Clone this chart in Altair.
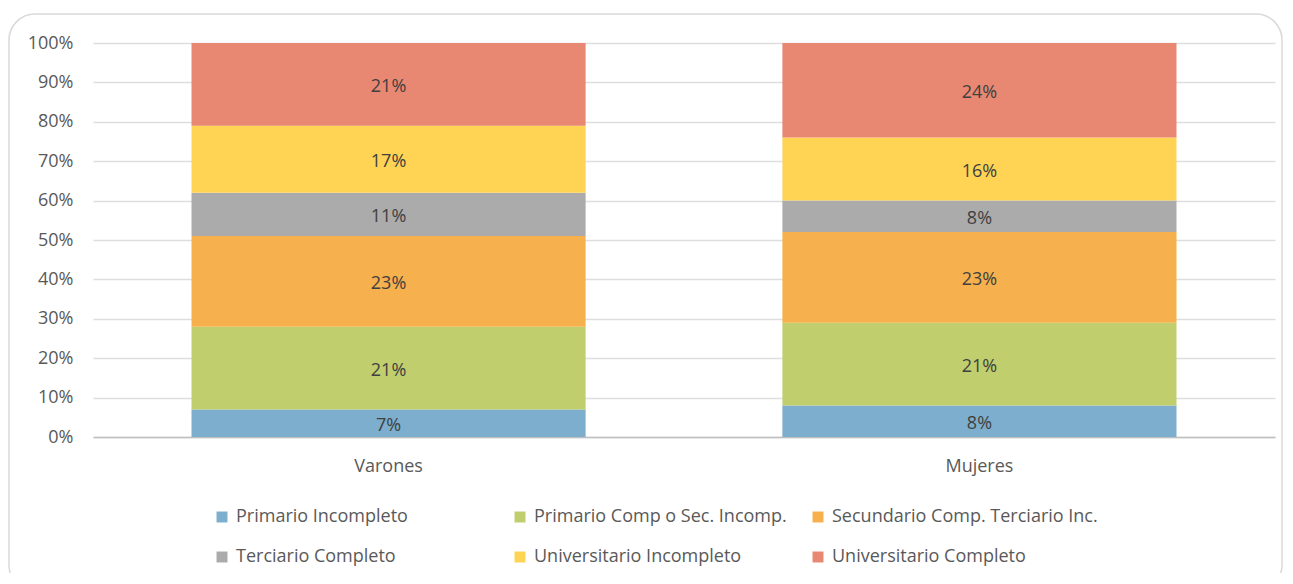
import altair as alt
import pandas as pd

groups = ["Varones", "Mujeres"]
levels = [
    "Primario Incompleto",
    "Primario Comp o Sec. Incomp.",
    "Secundario Comp. Terciario Inc.",
    "Terciario Completo",
    "Universitario Incompleto",
    "Universitario Completo",
]
colors = ["#76AACA", "#BDCB66", "#F5AC45", "#A6A6A6", "#FFD24C", "#E8826A"]
varones = [0.07, 0.21, 0.23, 0.11, 0.17, 0.21]
mujeres = [0.08, 0.21, 0.23, 0.08, 0.16, 0.24]
yticks = [0.0, 0.1, 0.2, 0.3, 0.4, 0.5, 0.6, 0.7, 0.8, 0.9, 1.0]

rows = []
for g, vals in zip(groups, [varones, mujeres]):
    for i, (lvl, v) in enumerate(zip(levels, vals)):
        rows.append({"grupo": g, "nivel": lvl, "idx": i, "valor": v})
df = pd.DataFrame(rows)

FONT = "Open Sans"
FS = 18

base = alt.Chart(df).transform_stack(
    stack="valor", as_=["y0", "y1"], groupby=["grupo"], sort=[alt.SortField("idx")]
).transform_calculate(mid="(datum.y0 + datum.y1) / 2")

xaxis = alt.Axis(
    title=None, labelAngle=0, ticks=False, labelPadding=20,
    domainColor="#BFBFBF", domainWidth=1.5, labelFontSize=FS,
    labelColor="#595959", labelFont=FONT, grid=False,
)
xscale = alt.Scale(paddingInner=0.333, paddingOuter=0.1667)
yaxis = alt.Axis(
    title=None, format=".0%", values=yticks, tickCount=11,
    labelOverlap=False, ticks=False, domain=False, labelPadding=20,
    labelFontSize=FS, labelColor="#595959", labelFont=FONT,
    gridColor="#DEDEDE", gridWidth=1.3,
)
yscale = alt.Scale(domain=[0, 1], nice=False)

bars = base.mark_bar(opacity=0.95).encode(
    x=alt.X("grupo:N", sort=groups, scale=xscale, axis=xaxis),
    y=alt.Y("y0:Q", scale=yscale, axis=yaxis),
    y2="y1:Q",
    color=alt.Color(
        "nivel:N",
        scale=alt.Scale(domain=levels, range=colors),
        legend=alt.Legend(
            title=None, orient="none", legendX=120, legendY=465, columns=3,
            direction="horizontal", gridAlign="all", columnPadding=9,
            rowPadding=22, symbolType="square", symbolSize=120,
            symbolStrokeWidth=0, labelFontSize=FS, labelFont=FONT,
            labelColor="#595959", labelOffset=5, labelLimit=400,
        ),
    ),
    order=alt.Order("idx:Q"),
)

labels = base.mark_text(fontSize=FS, font=FONT, color="#404040", dy=3).encode(
    x=alt.X("grupo:N", sort=groups, scale=xscale, axis=xaxis),
    y=alt.Y("mid:Q", scale=yscale, axis=yaxis),
    text=alt.Text("valor:Q", format=".0%"),
)

frame = alt.Chart(pd.DataFrame({"k": [0]})).mark_rect(
    fill=None, stroke="#D9D9D9", strokeWidth=1.5, cornerRadius=26
).encode(
    x=alt.value(-84), x2=alt.value(1189), y=alt.value(-29), y2=alt.value(548)
)

chart = alt.layer(frame, bars, labels).properties(
    width=1182, height=394,
    autosize=alt.AutoSizeParams(type="none"),
    padding={"left": 85, "top": 35, "right": 8, "bottom": 136},
).configure_view(stroke=None)

chart.save("out.html", embed_options={"renderer": "svg", "actions": False})
